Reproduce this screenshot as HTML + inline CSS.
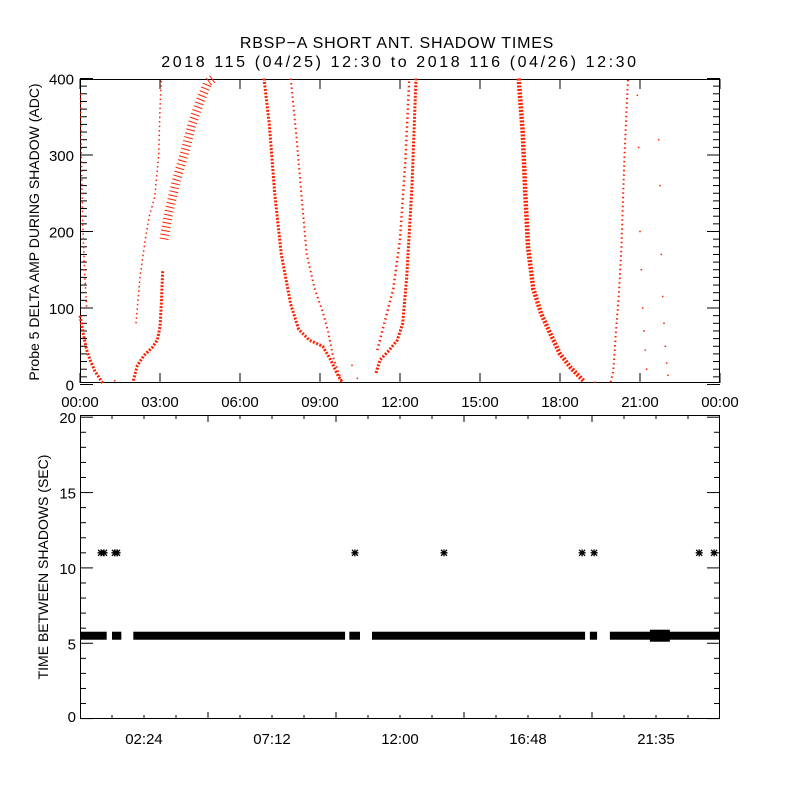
<!DOCTYPE html>
<html><head><meta charset="utf-8"><style>
body{margin:0;background:#fff;}
svg{display:block;font-family:"Liberation Sans",sans-serif;}
</style></head><body>
<svg id="c" width="800" height="800" viewBox="0 0 800 800">
<rect width="800" height="800" fill="#fff"/>
<text x="397" y="48" font-size="16" letter-spacing="0.8" text-anchor="middle">RBSP−A SHORT ANT. SHADOW TIMES</text>
<text x="400" y="67" font-size="16" letter-spacing="2.6" text-anchor="middle">2018 115 (04/25) 12:30 to 2018 116 (04/26) 12:30</text>
<g id="topPanel"></g>
<g id="botPanel"></g>
</svg>
<script>
// ---- top panel data: [hour, ADC] ----
const branchA1 = [[0.02,380],[0.05,300],[0.1,210],[0.18,140],[0.25,100]];
const branchA2 = [[0.0,90],[0.1,70],[0.25,45],[0.4,30],[0.55,18],[0.7,10],[0.85,2]];
const branchB1 = [[2.0,5],[2.15,25],[2.4,38],[2.7,48],[2.9,58],[3.0,75],[3.05,105],[3.1,150]];
const branchB2 = [[2.1,80],[2.25,140],[2.45,190],[2.6,220],[2.8,245],[2.95,300],[3.0,360],[3.05,400]];
const branchC = [[3.15,190],[3.3,220],[3.6,265],[3.9,300],[4.2,340],[4.5,370],[4.8,395],[5.0,402]];
const branchD1 = [[6.9,400],[7.1,340],[7.3,250],[7.55,170],[7.9,105],[8.2,72],[8.6,58],[9.1,50],[9.4,32],[9.7,10],[9.85,2]];
const branchD2 = [[7.9,400],[8.1,330],[8.3,250],[8.5,170],[8.8,125],[9.1,95],[9.3,70],[9.5,35],[9.8,5]];
const branchE1 = [[11.1,15],[11.25,32],[11.6,45],[11.9,58],[12.1,80],[12.25,140],[12.45,260],[12.6,400]];
const branchE2 = [[11.15,45],[11.45,85],[11.75,125],[12.0,190],[12.2,290],[12.35,400]];
const branchF = [[16.45,400],[16.6,330],[16.7,250],[16.8,180],[17.0,125],[17.3,92],[17.7,62],[18.0,40],[18.4,22],[18.9,4]];
const branchG = [[19.9,3],[20.0,18],[20.1,70],[20.2,115],[20.3,175],[20.42,300],[20.55,400]];
const branchWidths = [1.5,3,3,1.5,9,3,2,3,2.5,4.5,2];
const scatterHours = [1.3,10.2,10.4,19.3,20.9,20.95,21.0,21.05,21.1,21.15,21.2,21.25,21.7,21.75,21.8,21.85,21.9,21.95,22.0,22.05];
const scatterValues = [5,25,8,3,378,310,200,150,100,70,45,20,320,260,170,115,80,50,28,12];
// ---- bottom panel data ----
const bandStart = [0.0,1.2,2.0,10.1,10.95,19.12,19.87];
const bandEnd = [1.0,1.55,9.94,10.5,18.94,19.39,24.0];
const bandValue = 5.5;
const thickStart = [21.37];
const thickEnd = [22.12];
const outlierHours = [0.79,0.9,1.31,1.39,10.31,13.65,18.83,19.28,23.22,23.78];
const outlierValues = [11,11,11,11,11,11,11,11,11,11];
const topTickLabels = ["00:00","03:00","06:00","09:00","12:00","15:00","18:00","21:00","00:00"];
const topYTicks = [0,100,200,300,400];
const botTickLabels = ["02:24","07:12","12:00","16:48","21:35"];
const botYTicks = [0,5,10,15,20];

const NS="http://www.w3.org/2000/svg";
function mk(tag,attrs,parent){const e=document.createElementNS(NS,tag);for(const k in attrs)e.setAttribute(k,attrs[k]);parent.appendChild(e);return e;}
const X0=80,X1=720;
const xh=h=>X0+h*(X1-X0)/24;
const yT=v=>384.5-0.765*v;
const yB=v=>718.6-15.07*v;
const topG=document.getElementById('topPanel'), botG=document.getElementById('botPanel');

let f=mk('rect',{x:80.5,y:79.5,width:639,height:303,fill:'none',stroke:'#000'},topG);


for(let v=0;v<=400;v+=10){const y=yT(v);const L=v%100===0?13:7;
 mk('line',{x1:80,x2:80+L,y1:y,y2:y,stroke:'#000'},topG);mk('line',{x1:720-L,x2:720,y1:y,y2:y,stroke:'#000'},topG);}
topYTicks.forEach(v=>{const t=mk('text',{x:74,y:yT(v)+6,'font-size':15,'text-anchor':'end'},topG);t.textContent=v;
 
 });
topTickLabels.forEach((s,i)=>{const x=xh(i*3);
 mk('line',{x1:x,x2:x,y1:383,y2:373,stroke:'#000'},topG);mk('line',{x1:x,x2:x,y1:79,y2:89,stroke:'#000'},topG);
 const t=mk('text',{x:x,y:407,'font-size':15,'text-anchor':'middle'},topG);t.textContent=s;
 
 });
let yt=mk('text',{x:0,y:0,'font-size':14,'text-anchor':'middle',transform:'translate(39,232) rotate(-90)'},topG);
yt.textContent='Probe 5 DELTA AMP DURING SHADOW (ADC)';



const branches=[branchA1,branchA2,branchB1,branchB2,branchC,branchD1,branchD2,branchE1,branchE2,branchF,branchG];
branches.forEach((b,i)=>{
 const pts=b.map(p=>xh(p[0]).toFixed(1)+','+yT(Math.min(p[1],400)).toFixed(1)).join(' ');
 const w=branchWidths[i];
 const dash=w>=8?'1 3':(w>=3?'2 1.5':'1.5 3');
 const pl=mk('polyline',{points:pts,fill:'none',stroke:'#ff2000','stroke-width':w,'stroke-dasharray':dash},topG);
 
 
});
scatterHours.forEach((h,i)=>{
 const r=mk('rect',{x:xh(h)-0.75,y:yT(scatterValues[i])-0.75,width:1.5,height:1.5,fill:'#ff2000'},topG);
 
 
});

f=mk('rect',{x:80.5,y:415.5,width:639,height:303,fill:'none',stroke:'#000'},botG);


for(let v=0;v<=20;v++){const y=yB(v);const L=v%5===0?13:6;
 mk('line',{x1:80,x2:80+L,y1:y,y2:y,stroke:'#000'},botG);mk('line',{x1:720-L,x2:720,y1:y,y2:y,stroke:'#000'},botG);}
botYTicks.forEach(v=>{const t=mk('text',{x:76,y:Math.min(yB(v)+6,722),'font-size':15,'text-anchor':'end'},botG);t.textContent=v;
 
 });
for(let i=1;i<20;i++){const x=80+i*32;const L=i%4===0?7:4;
 mk('line',{x1:x,x2:x,y1:719,y2:719-L,stroke:'#000'},botG);mk('line',{x1:x,x2:x,y1:415,y2:415+L,stroke:'#000'},botG);}
botTickLabels.forEach((s,i)=>{const x=144+i*128;
 const t=mk('text',{x:x,y:744,'font-size':15,'text-anchor':'middle'},botG);t.textContent=s;
 
 });
yt=mk('text',{x:0,y:0,'font-size':14,'text-anchor':'middle',transform:'translate(48,567) rotate(-90)'},botG);
yt.textContent='TIME BETWEEN SHADOWS (SEC)';



bandStart.forEach((s,i)=>{
 const r=mk('rect',{x:xh(s),y:yB(bandValue)-4,width:xh(bandEnd[i])-xh(s),height:8,fill:'#000'},botG);
 
 
});
thickStart.forEach((s,i)=>{
 const r=mk('rect',{x:xh(s),y:yB(bandValue)-6,width:xh(thickEnd[i])-xh(s),height:12,fill:'#000'},botG);
 
 
});
outlierHours.forEach((h,i)=>{
 const cx=xh(h),cy=yB(outlierValues[i]);
 const g=mk('path',{d:`M${cx-3.5},${cy}H${cx+3.5}M${cx},${cy-3.5}V${cy+3.5}M${cx-3},${cy-3}L${cx+3},${cy+3}M${cx-3},${cy+3}L${cx+3},${cy-3}`,stroke:'#000','stroke-width':1.3},botG);
 
 
});
</script>
</body></html>
